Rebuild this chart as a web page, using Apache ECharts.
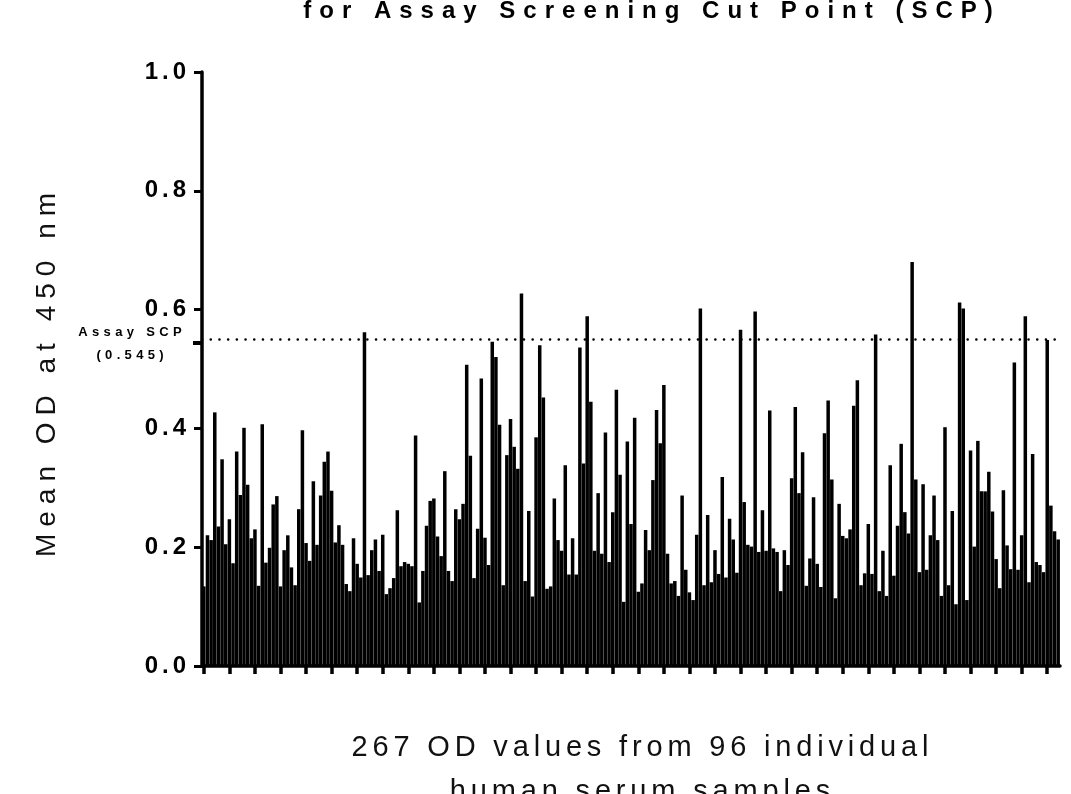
<!DOCTYPE html>
<html>
<head>
<meta charset="utf-8">
<script src="https://cdn.jsdelivr.net/npm/echarts@6/dist/echarts.min.js"></script>
<style>
  html, body { margin: 0; padding: 0; background: #fff; }
  #chart { width: 1071px; height: 794px; }
</style>
</head>
<body>
<div id="chart"></div>
<script>
// ---- data ----
const odValues = [
  0.134, 0.220, 0.212, 0.427, 0.235, 0.348, 0.205, 0.247, 0.173, 0.361, 0.288, 0.401, 0.305, 0.215, 0.230,
  0.135, 0.407, 0.174, 0.199, 0.272, 0.286, 0.134, 0.195, 0.220, 0.166, 0.136, 0.264, 0.397, 0.207,
  0.177, 0.311, 0.204, 0.287, 0.344, 0.361, 0.295, 0.208, 0.237, 0.204, 0.138, 0.126, 0.215, 0.172, 0.149,
  0.562, 0.153, 0.195, 0.213, 0.160, 0.221, 0.121, 0.131, 0.148, 0.262, 0.168, 0.175, 0.172, 0.168, 0.388,
  0.107, 0.160, 0.236, 0.278, 0.282, 0.218, 0.185, 0.328, 0.160, 0.143, 0.264, 0.247, 0.273, 0.507, 0.354,
  0.148, 0.231, 0.484, 0.216, 0.170, 0.546, 0.520, 0.406, 0.136, 0.355, 0.416, 0.369, 0.332, 0.627,
  0.143, 0.261, 0.117, 0.385, 0.540, 0.452, 0.130, 0.134, 0.282, 0.212, 0.194, 0.338, 0.154, 0.215, 0.154,
  0.536, 0.341, 0.589, 0.445, 0.194, 0.291, 0.189, 0.393, 0.175, 0.259, 0.465, 0.322, 0.108, 0.378,
  0.239, 0.418, 0.125, 0.139, 0.229, 0.195, 0.313, 0.431, 0.375, 0.473, 0.189, 0.139, 0.143, 0.118, 0.287,
  0.162, 0.124, 0.111, 0.221, 0.602, 0.136, 0.254, 0.141, 0.195, 0.155, 0.318, 0.149, 0.248, 0.213, 0.157,
  0.566, 0.276, 0.204, 0.201, 0.597, 0.192, 0.262, 0.194, 0.430, 0.198, 0.192, 0.126, 0.195, 0.170, 0.316,
  0.436, 0.291, 0.360, 0.135, 0.181, 0.284, 0.172, 0.133, 0.392, 0.447, 0.314, 0.114, 0.273, 0.219,
  0.215, 0.230, 0.438, 0.481, 0.136, 0.156, 0.239, 0.155, 0.558, 0.126, 0.194, 0.118, 0.338, 0.152, 0.236,
  0.374, 0.259, 0.223, 0.680, 0.314, 0.158, 0.306, 0.162, 0.220, 0.287, 0.212, 0.118, 0.402, 0.136,
  0.261, 0.104, 0.612, 0.602, 0.111, 0.363, 0.201, 0.379, 0.294, 0.294, 0.327, 0.260, 0.180, 0.131, 0.296,
  0.203, 0.163, 0.511, 0.162, 0.220, 0.589, 0.141, 0.357, 0.175, 0.170, 0.158, 0.549, 0.270, 0.227, 0.213
];
const sampleCategories = odValues.map((_, i) => String(i + 1));
const yTickLabels = ['0.0', '0.2', '0.4', '0.6', '0.8', '1.0'];
const scpValue = 0.545;
const scpLabelLines = ['Assay SCP', '(0.545)'];
const titleText = 'for Assay Screening Cut Point (SCP)';
const xAxisTitleLines = ['267 OD values from 96 individual', 'human serum samples'];
const yAxisTitle = 'Mean OD at 450 nm';

// letter-spaced text helper (inserts a narrow space between characters)
function spaced(s, sep) { return s.split('').join(sep); }
const SP_WIDE = '\u2004';   // three-per-em space
const SP_MED = '\u2005';    // four-per-em space
const SP_NARROW = '\u2006'; // six-per-em space

const FONT = '"Liberation Sans", Arial, Helvetica, sans-serif';

const chart = echarts.init(document.getElementById('chart'), null, { renderer: 'canvas' });

const option = {
  animation: false,
  backgroundColor: '#ffffff',
  textStyle: { fontFamily: FONT, color: '#000' },
  grid: { left: 202, right: 11, top: 72, bottom: 128, containLabel: false },
  xAxis: {
    type: 'category',
    data: sampleCategories,
    boundaryGap: true,
    axisLine: { show: true, lineStyle: { color: '#000', width: 3.5 } },
    axisTick: { show: true, alignWithLabel: true, interval: 6, length: 8, lineStyle: { color: '#000', width: 3.5 } },
    axisLabel: { show: false },
    splitLine: { show: false }
  },
  yAxis: [
    {
      type: 'value',
      min: 0, max: 1, interval: 0.2,
      axisLine: { show: true, lineStyle: { color: '#000', width: 3.5 } },
      axisTick: { show: true, length: 8, lineStyle: { color: '#000', width: 3 } },
      axisLabel: {
        show: true, margin: 16,
        fontSize: 24, fontWeight: 'bold', color: '#000', fontFamily: FONT,
        formatter: function (v) {
          const idx = Math.round(v / 0.2);
          return spaced(yTickLabels[idx] || v.toFixed(1), SP_NARROW);
        }
      },
      splitLine: { show: false }
    },
    {
      type: 'value',
      min: 0, max: 1,
      position: 'left', offset: 0,
      axisLine: { show: false },
      axisTick: { show: true, customValues: [scpValue], length: 9, lineStyle: { color: '#000', width: 4 } },
      axisLabel: { show: false },
      splitLine: { show: false }
    }
  ],
  series: [
    {
      type: 'bar',
      data: odValues,
      barCategoryGap: '4%',
      itemStyle: { color: '#000' },
      silent: true,
      markLine: {
        silent: true,
        symbol: 'none',
        lineStyle: { color: '#000', type: [0.1, 8.6], width: 2.5, cap: 'round' },
        label: {
          show: true,
          position: 'start',
          distance: 21,
          offset: [0, 5],
          formatter: '{a|' + spaced(scpLabelLines[0], SP_WIDE) + '}\n{a|' + spaced(scpLabelLines[1], SP_WIDE) + '}',
          rich: {
            a: { width: 102, align: 'center', fontSize: 13, fontWeight: 'bold', lineHeight: 23, color: '#000', fontFamily: FONT }
          }
        },
        data: [{ yAxis: scpValue }]
      }
    }
  ],
  graphic: [
    {
      type: 'text',
      x: 648, y: 11,
      style: {
        text: spaced(titleText, SP_WIDE),
        fontSize: 24, fontWeight: 'bold', fontFamily: FONT, fill: '#000',
        textAlign: 'center', textVerticalAlign: 'middle'
      }
    },
    {
      type: 'text',
      x: 640, y: 770,
      style: {
        text: xAxisTitleLines.map(s => spaced(s, SP_NARROW)).join('\n'),
        fontSize: 29, fontFamily: FONT, fill: '#111', lineHeight: 44,
        textAlign: 'center', textVerticalAlign: 'middle'
      }
    },
    {
      type: 'text',
      x: 47, y: 375,
      rotation: Math.PI / 2,
      style: {
        text: spaced(yAxisTitle, SP_MED),
        fontSize: 28, fontFamily: FONT, fill: '#111',
        textAlign: 'center', textVerticalAlign: 'middle'
      }
    }
  ]
};

chart.setOption(option);
</script>
</body>
</html>
